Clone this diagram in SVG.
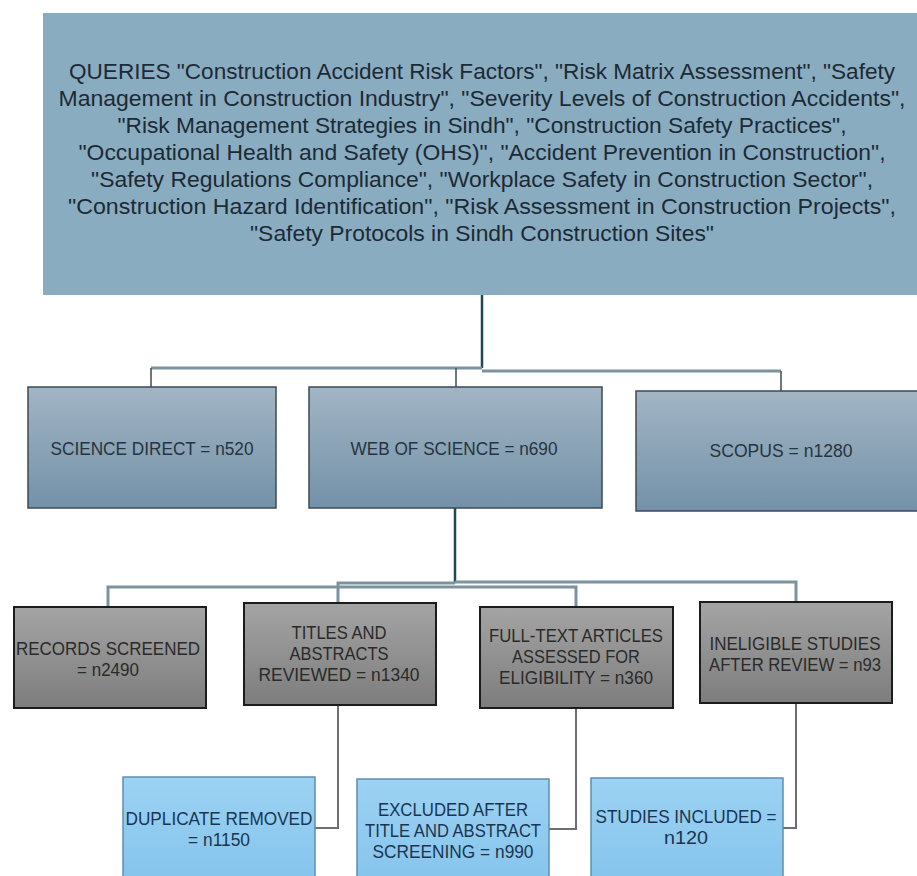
<svg xmlns="http://www.w3.org/2000/svg" width="917" height="876" viewBox="0 0 917 876">
<defs>
<linearGradient id="gBlue" x1="0" y1="0" x2="0" y2="1"><stop offset="0" stop-color="#a2b5c4"/><stop offset="1" stop-color="#7391a8"/></linearGradient>
<linearGradient id="gGray" x1="0" y1="0" x2="0" y2="1"><stop offset="0" stop-color="#a4a4a4"/><stop offset="1" stop-color="#7d7d7d"/></linearGradient>
<linearGradient id="gSky" x1="0" y1="0" x2="0" y2="1"><stop offset="0" stop-color="#9cd2f3"/><stop offset="1" stop-color="#84c3ec"/></linearGradient>
<style>
text{font-family:"Liberation Sans",Arial,sans-serif;text-anchor:middle}
.q{font-size:22px;fill:#1c2a36}
.m{font-size:19px;fill:#263440}
.g{font-size:19px;fill:#2a2a2a}
.s{font-size:19px;fill:#1b3550}
.top{fill:#8aacc0}
.blue{fill:url(#gBlue);stroke:#3c4a55;stroke-width:1.5}
.gray{fill:url(#gGray);stroke:#1c1c1c;stroke-width:2}
.sky{fill:url(#gSky);stroke:#5d8fad;stroke-width:1.5}
.trunk{fill:none;stroke:#1f4852;stroke-width:2.5}
.br{fill:none;stroke:#7a939e;stroke-width:3}
.stub{fill:none;stroke:#3d4e57;stroke-width:1.5}
.el{fill:none;stroke:#6b6f72;stroke-width:2}
</style>
</defs>
<rect width="917" height="876" fill="#ffffff"/>
<g id="connectors">
<path class="trunk" d="M482 295V368"/>
<path class="br" d="M151 368H482"/>
<path class="br" d="M482 371H781"/>
<path class="stub" d="M151 368V387M456 368V387M781 371V391"/>
<path class="trunk" d="M455 508V583"/>
<path class="br" d="M455 582H796V602"/>
<path class="br" d="M455 583H338V603"/>
<path class="br" d="M108 608V587H576V608"/>
<path class="el" d="M338 705V828H315"/>
<path class="el" d="M576 708V829H549"/>
<path class="el" d="M796 703V828H783"/>
</g>
<g id="queries">
<rect class="top" x="43" y="13" width="882" height="282"/>
<text class="q" x="482" y="79" textLength="826" lengthAdjust="spacingAndGlyphs">QUERIES "Construction Accident Risk Factors", "Risk Matrix Assessment", "Safety</text>
<text class="q" x="482" y="106" textLength="847" lengthAdjust="spacingAndGlyphs">Management in Construction Industry", "Severity Levels of Construction Accidents",</text>
<text class="q" x="482" y="133" textLength="729" lengthAdjust="spacingAndGlyphs">"Risk Management Strategies in Sindh", "Construction Safety Practices",</text>
<text class="q" x="482" y="160" textLength="807" lengthAdjust="spacingAndGlyphs">"Occupational Health and Safety (OHS)", "Accident Prevention in Construction",</text>
<text class="q" x="482" y="187" textLength="782" lengthAdjust="spacingAndGlyphs">"Safety Regulations Compliance", "Workplace Safety in Construction Sector",</text>
<text class="q" x="482" y="214" textLength="828" lengthAdjust="spacingAndGlyphs">"Construction Hazard Identification", "Risk Assessment in Construction Projects",</text>
<text class="q" x="482" y="241" textLength="464" lengthAdjust="spacingAndGlyphs">"Safety Protocols in Sindh Construction Sites"</text>
</g>
<g id="science-direct">
<rect class="blue" x="28" y="387" width="248" height="121"/>
<text class="m" x="152" y="455" textLength="203" lengthAdjust="spacingAndGlyphs">SCIENCE DIRECT = n520</text>
</g>
<g id="web-of-science">
<rect class="blue" x="309" y="387" width="293" height="121"/>
<text class="m" x="454" y="455" textLength="207" lengthAdjust="spacingAndGlyphs">WEB OF SCIENCE = n690</text>
</g>
<g id="scopus">
<rect class="blue" x="636" y="391" width="290" height="120"/>
<text class="m" x="781" y="457" textLength="143" lengthAdjust="spacingAndGlyphs">SCOPUS = n1280</text>
</g>
<g id="records-screened">
<rect class="gray" x="14" y="607" width="192" height="101"/>
<text class="g" x="108" y="655" textLength="184" lengthAdjust="spacingAndGlyphs">RECORDS SCREENED</text>
<text class="g" x="108" y="676" textLength="62" lengthAdjust="spacingAndGlyphs">= n2490</text>
</g>
<g id="titles-abstracts">
<rect class="gray" x="244" y="603" width="192" height="102"/>
<text class="g" x="339" y="639" textLength="95" lengthAdjust="spacingAndGlyphs">TITLES AND</text>
<text class="g" x="339" y="660" textLength="99" lengthAdjust="spacingAndGlyphs">ABSTRACTS</text>
<text class="g" x="339" y="681" textLength="161" lengthAdjust="spacingAndGlyphs">REVIEWED = n1340</text>
</g>
<g id="full-text">
<rect class="gray" x="480" y="607" width="193" height="101"/>
<text class="g" x="576" y="642" textLength="174" lengthAdjust="spacingAndGlyphs">FULL-TEXT ARTICLES</text>
<text class="g" x="576" y="663" textLength="128" lengthAdjust="spacingAndGlyphs">ASSESSED FOR</text>
<text class="g" x="576" y="684" textLength="154" lengthAdjust="spacingAndGlyphs">ELIGIBILITY = n360</text>
</g>
<g id="ineligible">
<rect class="gray" x="700" y="602" width="192" height="101"/>
<text class="g" x="795" y="650" textLength="171" lengthAdjust="spacingAndGlyphs">INELIGIBLE STUDIES</text>
<text class="g" x="795" y="671" textLength="172" lengthAdjust="spacingAndGlyphs">AFTER REVIEW = n93</text>
</g>
<g id="duplicate-removed">
<rect class="sky" x="123" y="777" width="192" height="110"/>
<text class="s" x="219" y="825" textLength="187" lengthAdjust="spacingAndGlyphs">DUPLICATE REMOVED</text>
<text class="s" x="219" y="846" textLength="62" lengthAdjust="spacingAndGlyphs">= n1150</text>
</g>
<g id="excluded">
<rect class="sky" x="357" y="779" width="192" height="110"/>
<text class="s" x="453" y="816" textLength="150" lengthAdjust="spacingAndGlyphs">EXCLUDED AFTER</text>
<text class="s" x="453" y="837" textLength="176" lengthAdjust="spacingAndGlyphs">TITLE AND ABSTRACT</text>
<text class="s" x="453" y="858" textLength="161" lengthAdjust="spacingAndGlyphs">SCREENING = n990</text>
</g>
<g id="studies-included">
<rect class="sky" x="591" y="778" width="192" height="110"/>
<text class="s" x="686" y="823" textLength="181" lengthAdjust="spacingAndGlyphs">STUDIES INCLUDED =</text>
<text class="s" x="686" y="844" textLength="44" lengthAdjust="spacingAndGlyphs">n120</text>
</g>
</svg>
